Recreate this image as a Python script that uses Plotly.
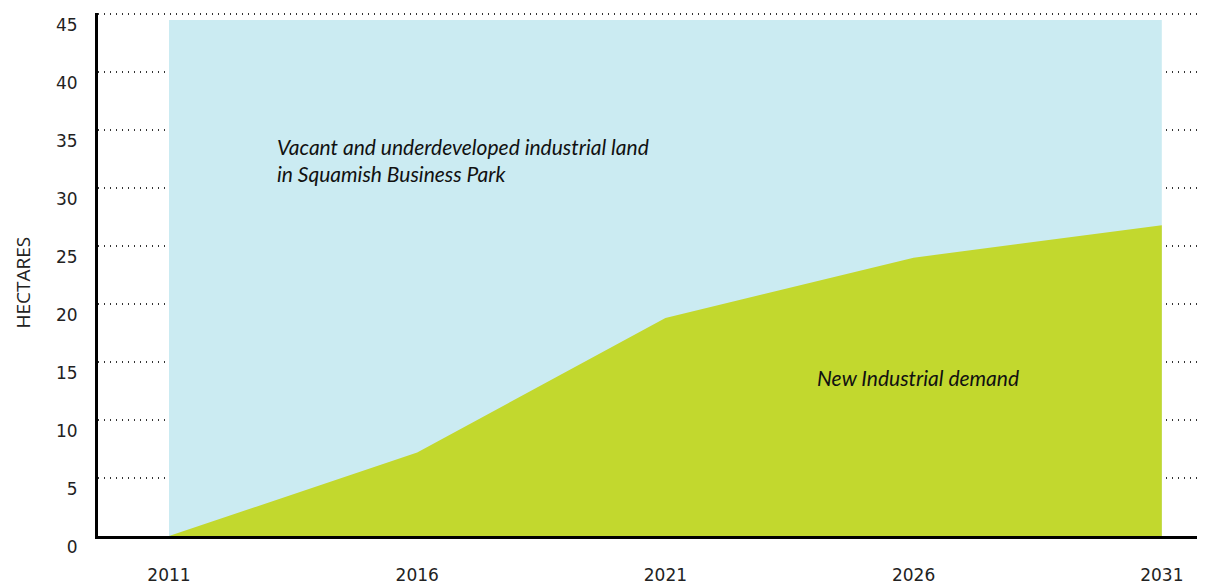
import plotly.graph_objects as go

years = [2011, 2016, 2021, 2026, 2031]
vacant_land = [44.5, 44.5, 44.5, 44.5, 44.5]
new_demand = [0, 7.2, 18.8, 24.0, 26.8]
y_ticks = [0, 5, 10, 15, 20, 25, 30, 35, 40, 45]

fig = go.Figure()
fig.add_trace(go.Scatter(x=years, y=vacant_land, fill="tozeroy", mode="none",
                         fillcolor="#CBEBF2", hoverinfo="skip"))
fig.add_trace(go.Scatter(x=years, y=new_demand, fill="tozeroy", mode="none",
                         fillcolor="#C2D82E", hoverinfo="skip"))

fig.add_annotation(x=2013.13, y=32.4, xanchor="left", yanchor="middle", showarrow=False,
                   text="<i>Vacant and underdeveloped industrial land<br>in Squamish Business Park</i>",
                   align="left", font=dict(family="Lato", size=21, color="#111"))
fig.add_annotation(x=2024.01, y=13.7, xanchor="left", yanchor="middle", showarrow=False,
                   text="<i>New Industrial demand</i>",
                   font=dict(family="Lato", size=21, color="#111"))
fig.add_annotation(xref="paper", yref="paper", x=0, y=0.5, xshift=-76, yshift=-8,
                   xanchor="center", yanchor="middle", showarrow=False, textangle=-90,
                   text="HECTARES", font=dict(family="Open Sans", size=19, color="#222"))

# page body has an 8px margin, so the figure is sized to fill the rest of the window
fig.update_layout(
    width=1197, height=577,
    margin=dict(l=90, r=0, t=5, b=49),
    plot_bgcolor="white", paper_bgcolor="white",
    showlegend=False,
    font=dict(family="DejaVu Sans", size=17, color="#222"),
)
fig.update_xaxes(range=[2009.57, 2031.87], tickvals=years, showgrid=False,
                 showline=True, linecolor="black", linewidth=3, zeroline=False,
                 ticks="", ticklabelstandoff=22, automargin=False)
fig.update_yaxes(range=[0, 45.1], tickvals=y_ticks, showgrid=True,
                 gridcolor="#333", griddash="1px,5px", gridwidth=1.5,
                 showline=True, linecolor="black", linewidth=3, zeroline=False,
                 ticks="", ticklabelstandoff=14, ticklabelshift=11, automargin=False,
                 ticklabeloverflow="allow")

fig.write_html("out.html")
